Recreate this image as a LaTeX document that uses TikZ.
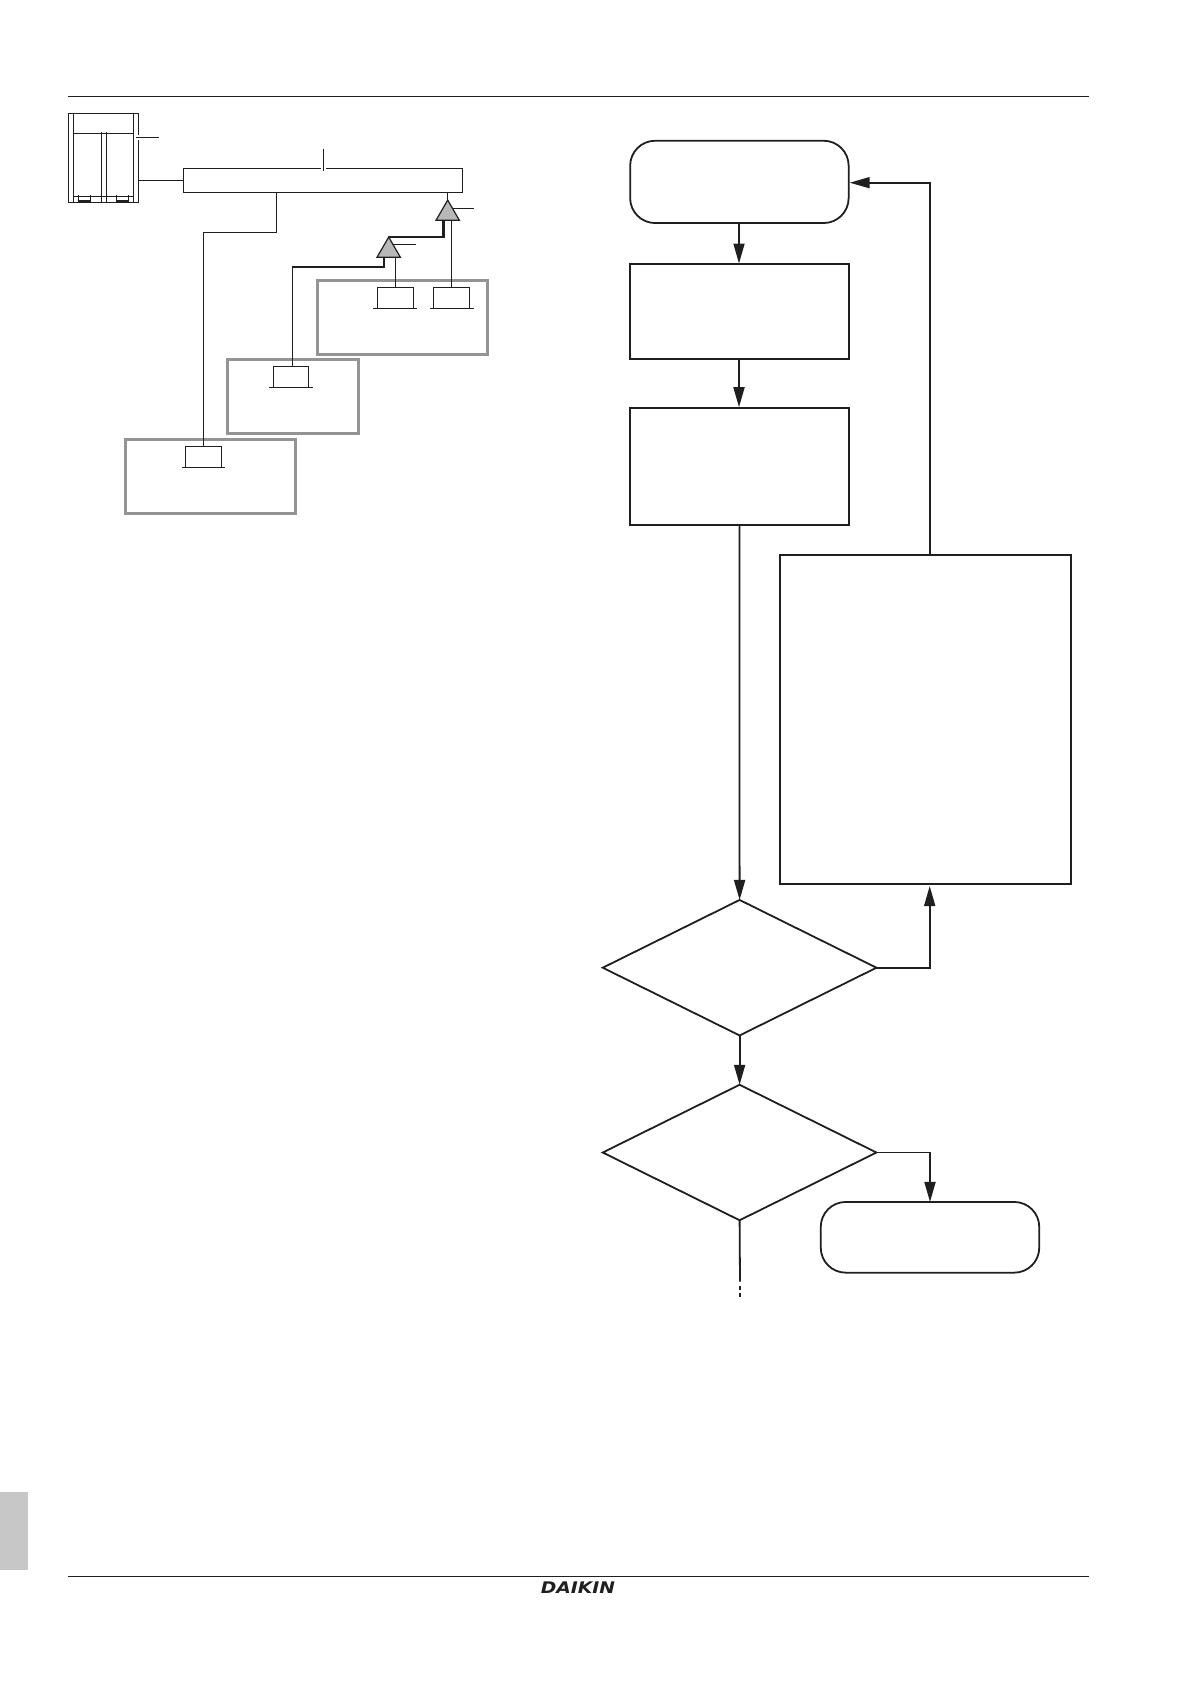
\documentclass[tikz,border=0pt]{standalone}
\usepackage{fontspec}
\setmainfont{Liberation Sans}
\newfontfamily\logofont{DejaVu Sans}
\usepackage{xcolor}
\usetikzlibrary{shapes.geometric,arrows.meta}
\definecolor{manInk}  {gray}{0.12}
\definecolor{manGrey} {gray}{0.58}
\definecolor{manTri}  {gray}{0.72}
\definecolor{manTab}  {gray}{0.78}
\begin{document}
\begin{tikzpicture}[x=1pt, y=-1pt,
      pipe/.style={draw=manInk, line width=1.2pt},
      heavypipe/.style={draw=manInk, line width=2.4pt},
      indoor/.style={rectangle, draw=manInk, line width=1.2pt, inner sep=0pt, outer sep=0pt,
                     minimum width=36pt, minimum height=21pt},
      zone/.style={rectangle, draw=manGrey, line width=2.6pt, inner sep=0pt, outer sep=0pt,
                   minimum width=170.4pt, minimum height=74pt},
      branch/.style={regular polygon, regular polygon sides=3, draw=manInk, fill=manTri,
                     line width=1.2pt, inner sep=0pt, outer sep=0pt, minimum size=26.9pt},
      flowbox/.style={rectangle, draw=manInk, line width=1.8pt, inner sep=0pt, outer sep=0pt,
                      minimum width=218.5pt},
      flowend/.style={flowbox, rounded corners=25pt},
      flowask/.style={diamond, draw=manInk, line width=1.8pt, inner sep=0pt, outer sep=0pt,
                      minimum width=273.7pt, minimum height=135.5pt},
      flow/.style={-{Triangle[length=20pt, width=11pt]}, draw=manInk, line width=1.8pt},
      rule/.style={draw=manInk, line width=1pt}]
    \useasboundingbox (0,0) rectangle (1191,1684);

    % page furniture
    \coordinate (topL) at (68,96);
    \coordinate (topR) at (1089,96);
    \coordinate (botL) at (68,1576.6);
    \coordinate (botR) at (1089,1576.6);
    \draw[rule] (topL) -- (topR);
    \draw[rule] (botL) -- (botR);
    \node[rectangle, fill=manTab, inner sep=0pt, outer sep=0pt, minimum width=28pt, minimum height=78pt]
      (tab) at (14,1531) {};
    \node[inner sep=0pt, font=\logofont\bfseries\itshape\fontsize{16}{16}\selectfont, text=manInk,
          xscale=1.17] (logo) at (578,1587.5) {DAIKIN};

    % outdoor unit
    \node[rectangle, draw=manInk, line width=1.2pt, inner sep=0pt, outer sep=0pt,
          minimum width=70.4pt, minimum height=89pt] (outdoor) at (103.5,157.8) {};
    \draw[pipe] (73.3,113.3) -- (73.3,202.3) (133.3,113.3) -- (133.3,202.3);
    \draw[pipe] (73.3,133.3) -- (133.3,133.3);
    \draw[pipe] (101.7,132.3) -- (101.7,202.3) (106.3,132.3) -- (106.3,202.3);
    \draw[pipe] (73.3,196.3) -- (133.3,196.3);
    \draw[pipe] (78.3,195) -- (78.3,201) -- (90.3,201) -- (90.3,195);
    \draw[pipe] (116.3,195) -- (116.3,201) -- (128.3,201) -- (128.3,195);
    \draw[white, line width=1.8pt] (138.7,135) -- (138.7,140);
    \coordinate (outTagA) at (136.3,137.3);
    \coordinate (outTagB) at (158.7,137.3);
    \draw[pipe] (outTagA) -- (outTagB);

    % main line and indoor units
    \node[rectangle, draw=manInk, line width=1.2pt, inner sep=0pt, outer sep=0pt,
          minimum width=279.4pt, minimum height=24pt] (header) at (323,180.3) {};
    \draw[white, line width=1.8pt] (320.5,168.3) -- (326,168.3);
    \coordinate (headTagA) at (323.3,148.7);
    \coordinate (headTagB) at (323.3,170.7);
    \draw[pipe] (headTagA) -- (headTagB);
    \draw[pipe] (outdoor.east |- header.west) -- (header.west);

    \node[zone] (zoneA) at (402.5,317.3) {};
    \node[zone, minimum width=131.4pt] (zoneB) at (293,396.3) {};
    \node[zone] (zoneC) at (210.5,476.3) {};

    \node[indoor] (unitA) at (395.3,297.8) {};
    \node[indoor] (unitB) at (451.3,297.8) {};
    \node[indoor, minimum width=35pt] (unitC) at (290.8,376.8) {};
    \node[indoor] (unitD) at (203.3,456.8) {};
    \draw[pipe] (373.3,308.3) -- (417,308.3);
    \draw[pipe] (429.7,308.3) -- (473.7,308.3);
    \draw[pipe] (269,387.3) -- (312.7,387.3);
    \draw[pipe] (181.7,467.3) -- (225.3,467.3);

    \node[branch] (branchA) at (447.7,213.5) {};
    \node[branch] (branchB) at (388.7,250.5) {};
    \coordinate (tagAa) at (452.3,208.3);
    \coordinate (tagAb) at (474.3,208.3);
    \coordinate (tagBa) at (393.3,244.3);
    \coordinate (tagBb) at (415.7,244.3);
    \draw[pipe] (tagAa) -- (tagAb);
    \draw[pipe] (tagBa) -- (tagBb);

    \draw[pipe] (branchA.corner 1 |- header.south) -- (branchA.corner 1);
    \draw[pipe] (276.7,192.3) |- (203.3,232.3) -- (unitD.north);
    \draw[pipe] (unitB.north) -- (unitB.north |- branchA.side 2);
    \draw[pipe] (395.7,287.3) -- (395.7,256.5);
    \draw[heavypipe] ([xshift=-4.4pt]branchA.side 2) |- (branchB.corner 1);
    \draw[heavypipe] ([xshift=-4.7pt]branchB.side 2) -- ++(0,9.8);
    \draw[pipe] ([xshift=-4.7pt]branchB.side 2) ++(0.55,9.8) -| (292.3,366.3);

    % flow chart
    \node[flowend, minimum height=82.3pt] (start) at (739.4,181.9) {};
    \node[flowbox, minimum height=95pt]   (check) at (739.4,311.5) {};
    \node[flowbox, minimum height=117pt]  (apply) at (739.4,466.2) {};
    \node[rectangle, draw=manInk, line width=1.8pt, inner sep=0pt, outer sep=0pt,
          minimum width=291.2pt, minimum height=328.7pt] (remedy) at (925.4,719.6) {};
    \node[flowask] (askA) at (739.6,967.7) {};
    \node[flowask] (askB) at (739.6,1152.5) {};
    \node[flowend, minimum height=70.7pt] (finish) at (930,1237.3) {};
    \coordinate (cont) at (740,1281.7);
    \coordinate (contEnd) at (740,1297.5);

    \draw[flow] (739,223) -- (739,263.5);
    \draw[flow] (739,359) -- (739,407.2);
    \draw[flow] (739.5,524.7) -- (askA.north);
    \draw[flow] (askA.east) -| (929.7,886);
    \draw[flow] (930,555.3) |- (849.7,182.7);
    \draw[flow] (askA.south) -- (askB.north);
    \draw[flow] (askB.east) -| (finish.north);
    \draw[draw=manInk, line width=1.8pt] (askB.south) -- (cont);
    \draw[draw=manInk, line width=1.8pt, dash pattern=on 4pt off 3.3pt] (cont) ++(0,4.3) -- (contEnd);
\end{tikzpicture}
\end{document}
